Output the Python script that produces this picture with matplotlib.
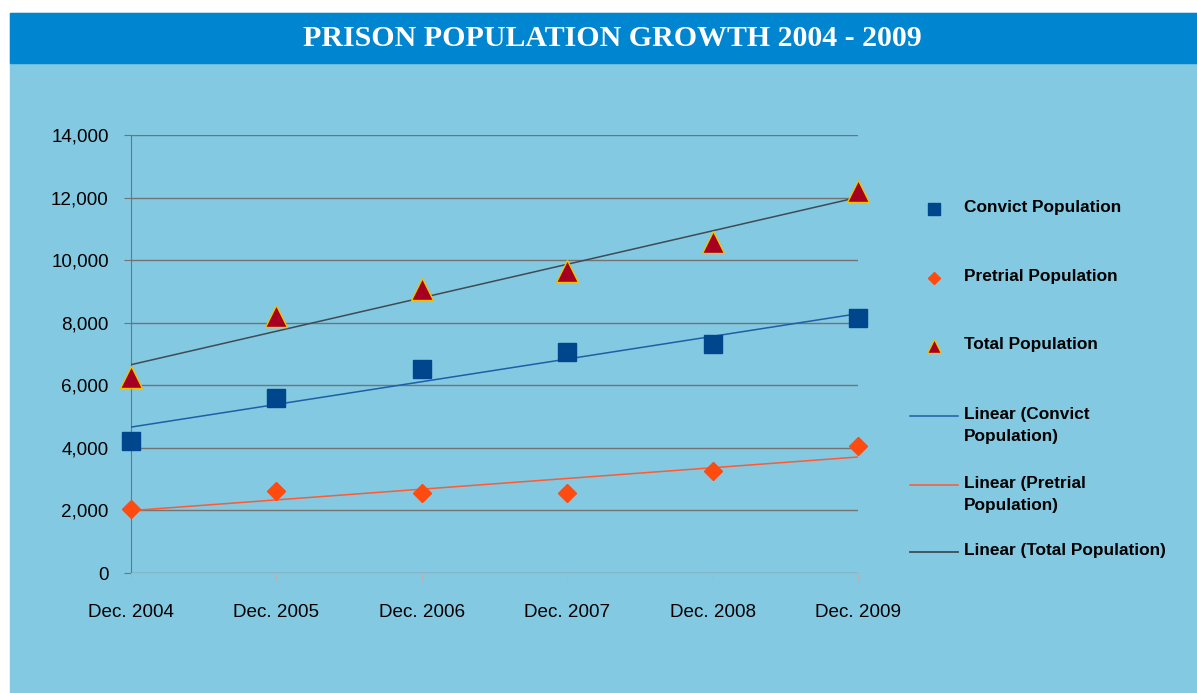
import numpy as np
import matplotlib
matplotlib.use("Agg")
import matplotlib.pyplot as plt
from matplotlib.patches import Rectangle
from matplotlib.lines import Line2D
from matplotlib.ticker import FuncFormatter

# data
years = ["Dec. 2004", "Dec. 2005", "Dec. 2006", "Dec. 2007", "Dec. 2008", "Dec. 2009"]
convict = [4220, 5590, 6520, 7060, 7320, 8150]
pretrial = [2045, 2620, 2560, 2560, 3260, 4060]
total = [6265, 8210, 9080, 9640, 10580, 12220]

bg = "#83C9E2"
banner = "#0086D1"
c_convict = "#00468C"
c_pretrial = "#FF4A10"
c_total = "#A50021"
c_total_edge = "#F2C200"
t_convict = "#1F5FA5"
t_pretrial = "#FF5A32"
t_total = "#3F4B55"

fig = plt.figure(figsize=(11.97, 6.93), dpi=100, facecolor="white")
W, H = 1197, 693

# background panel and title banner
fig.patches.append(Rectangle((10 / W, 0), 1 - 10 / W, 1 - 13 / H,
                             transform=fig.transFigure, color=bg, zorder=-2))
fig.patches.append(Rectangle((10 / W, 1 - 63 / H), 1 - 10 / W, 50 / H,
                             transform=fig.transFigure, color=banner, zorder=-1))
fig.text(612 / W, 1 - 38 / H, "PRISON POPULATION GROWTH 2004 - 2009",
         ha="center", va="center", color="white", fontsize=21.5,
         fontweight="bold", family="Liberation Serif")

ax = fig.add_axes([131 / W, 1 - 573 / H, 727 / W, 438 / H])
ax.set_facecolor("none")
ax.set_zorder(2)

x = np.arange(len(years))

# trend lines
for vals, col in [(convict, t_convict), (pretrial, t_pretrial), (total, t_total)]:
    k, b = np.polyfit(x, vals, 1)
    ax.plot(x, k * x + b, color=col, lw=1.1, zorder=3)

ax.plot(x, convict, "s", ms=13, color=c_convict, mec=c_convict, clip_on=False, zorder=4)
ax.plot(x, pretrial, "D", ms=9.5, color=c_pretrial, mec=c_pretrial, clip_on=False, zorder=4)
ax.plot(x, total, "^", ms=16, color=c_total, mec=c_total_edge, mew=1.0, clip_on=False, zorder=5)

ax.set_xlim(0, 5)
ax.set_ylim(0, 14000)
ax.set_yticks(range(0, 14001, 2000))
ax.yaxis.set_major_formatter(FuncFormatter(lambda v, p: "{:,.0f}".format(v)))
ax.set_xticks(x)
ax.set_xticklabels(years)
ax.grid(axis="y", color="#737373", lw=1.0)
ax.set_axisbelow(True)

for s in ["top", "right"]:
    ax.spines[s].set_visible(False)
ax.spines["left"].set_color("#737373")
ax.spines["bottom"].set_color("#B4B4B4")
ax.tick_params(axis="y", length=5, color="#737373", pad=11, labelsize=13.6)
ax.tick_params(axis="x", length=6, color="#B4B4B4", pad=16, labelsize=13.6)
for lab in ax.get_xticklabels() + ax.get_yticklabels():
    lab.set_family("Liberation Sans")

# legend drawn by hand so the wrapped labels sit like the original
leg_font = dict(family="Liberation Sans", fontweight="bold", fontsize=12.4, color="black")
entries = [
    (209, "marker", dict(marker="s", ms=8, color=c_convict, mec=c_convict), "Convict Population"),
    (278, "marker", dict(marker="D", ms=6, color=c_pretrial, mec=c_pretrial), "Pretrial Population"),
    (346, "marker", dict(marker="^", ms=10, color=c_total, mec=c_total_edge, mew=1), "Total Population"),
    (416, "line", dict(color=t_convict, lw=1.1), "Linear (Convict\nPopulation)"),
    (485, "line", dict(color=t_pretrial, lw=1.1), "Linear (Pretrial\nPopulation)"),
    (552, "line", dict(color=t_total, lw=1.3), "Linear (Total Population)"),
]
for ypx, kind, style, label in entries:
    yf = 1 - ypx / H
    if kind == "marker":
        fig.add_artist(Line2D([934 / W], [yf], ls="none", transform=fig.transFigure, **style))
    else:
        fig.add_artist(Line2D([910 / W, 958 / W], [yf, yf], transform=fig.transFigure, **style))
    fig.text(964 / W, yf + 9 / H, label, ha="left", va="top", linespacing=1.55, **leg_font)

fig.savefig("out.png", dpi=100, facecolor=fig.get_facecolor())
